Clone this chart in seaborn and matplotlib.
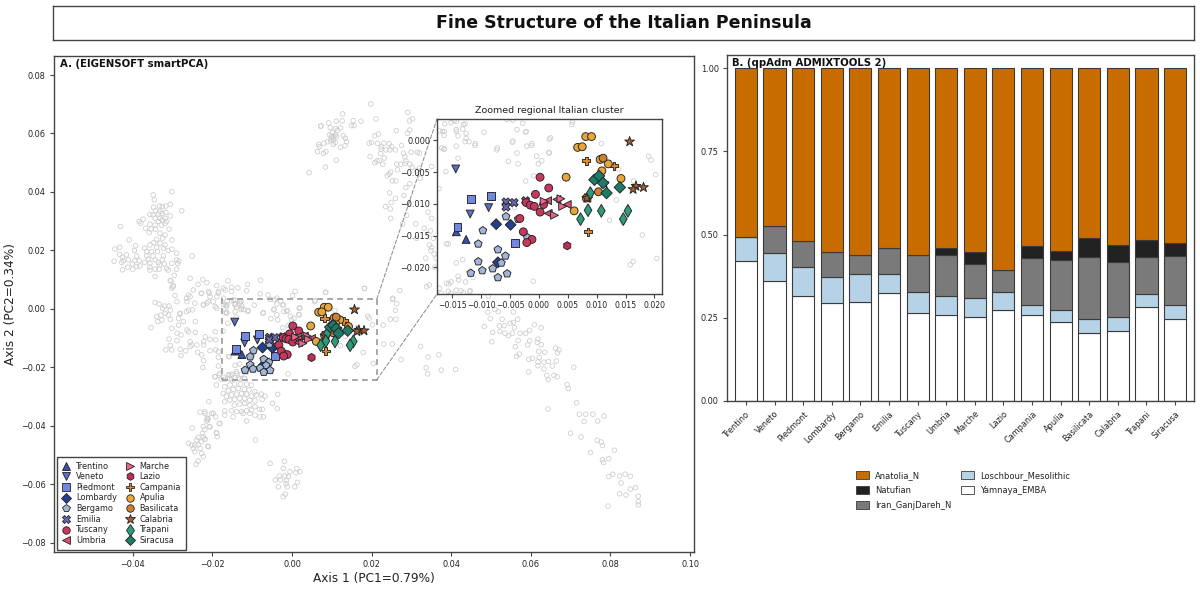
import numpy as np
import pandas as pd
import matplotlib
matplotlib.use("Agg")
import matplotlib.pyplot as plt
from matplotlib.lines import Line2D
from matplotlib.patches import ConnectionPatch, Patch, Rectangle
import seaborn as sns

bg_points = [
    (12.7,66.7),(17.3,64.2),(15.4,64.4),(14.9,62.7),(15.6,62.7),(9.2,63.6),(11.1,64.2),(12.6,64.3),(7.2,62.5),(7.3,62.6),
    (9.6,62.0),(10.9,61.7),(12.2,61.9),(10.2,60.3),(9.4,59.5),(10.9,59.6),(12.9,59.2),(13.4,58.4),(13.7,57.2),(10.4,57.8),
    (9.7,57.6),(10.4,56.3),(8.9,57.2),(8.0,56.7),(6.7,56.3),(12.2,55.3),(13.3,55.8),(6.9,55.5),(6.4,53.8),(7.9,53.2),
    (8.5,53.8),(11.1,50.9),(8.4,48.5),(4.3,46.6),(11.2,58.9),(10.0,58.4),(10.9,56.9),(11.4,61.1),(10.5,59.0),(9.9,58.9),
    (-30.2,40.1),(-34.9,39.0),(-34.6,37.3),(-30.6,35.8),(-31.7,35.2),(-32.6,35.0),(-33.3,35.2),(-34.8,34.8),(-27.7,33.6),(-34.3,33.6),
    (-33.2,33.3),(-31.7,33.0),(-32.6,32.7),(-33.6,32.5),(-34.9,32.2),(-35.7,32.3),(-30.6,31.8),(-34.4,31.0),(-33.2,31.0),(-31.9,31.0),
    (-32.6,30.4),(-31.5,29.9),(-33.6,29.9),(-37.4,30.7),(-38.4,29.9),(-38.0,29.3),(-43.1,28.2),(-35.7,29.0),(-34.4,28.7),(-32.8,28.7),
    (-31.9,29.3),(-36.8,27.6),(-35.4,27.3),(-34.3,27.3),(-30.9,27.3),(-35.9,26.1),(-33.2,25.9),(-31.9,25.3),(-34.0,23.8),(-32.5,24.2),
    (-30.2,23.6),(-40.9,23.6),(-39.3,21.6),(-34.7,22.7),(-33.2,22.5),(-31.9,21.9),(-35.7,21.9),(-37.0,20.8),(-34.0,21.1),(-32.3,20.8),
    (-30.2,20.4),(-44.5,20.5),(-43.3,21.1),(-39.6,20.0),(-36.5,19.6),(-35.3,19.6),(-33.8,19.6),(-31.1,20.0),(-29.0,19.1),(-43.3,18.7),
    (-41.6,18.5),(-39.0,18.1),(-42.6,17.7),(-36.5,18.2),(-34.9,18.1),(-32.3,18.2),(-25.1,18.1),(-44.7,16.3),(-42.4,16.5),(-41.1,16.8),
    (-39.5,16.5),(-38.4,16.5),(-36.1,17.0),(-34.4,16.8),(-32.6,16.8),(-29.0,16.8),(-28.4,16.4),(-42.8,15.9),(-40.1,15.4),(-37.0,15.9),
    (-35.7,15.6),(-33.6,15.9),(-32.1,15.4),(-30.2,15.6),(-28.7,15.6),(-41.3,14.3),(-39.0,14.5),(-38.2,14.7),(-35.7,14.3),(-33.2,15.1),
    (-40.0,13.6),(-42.6,13.4),(-35.7,13.3),(-34.4,13.6),(-33.4,13.6),(-31.5,13.9),(-31.1,13.3),(-29.0,13.6),(-29.6,11.5),(-34.4,11.1),
    (-30.6,9.7),(-25.6,10.5),(-29.8,7.9),(-30.2,7.1),(-29.4,4.6),
    (-22.4,10.1),(-21.4,9.0),(-23.6,8.4),(-16.1,9.6),(-7.9,9.8),(-11.2,8.4),(-18.9,8.0),(-17.2,7.1),(-15.2,7.4),(-13.6,7.2),
    (-11.4,6.2),(-26.0,4.8),(-20.8,5.4),(-18.5,5.4),(-15.2,6.0),(-22.7,5.4),(-26.5,3.7),(-24.4,2.0),(-21.4,2.0),(-19.8,2.5),
    (-17.2,3.7),(-14.7,3.1),(-13.1,2.5),(-8.0,5.2),(-6.0,4.8),(-3.8,3.7),(-2.2,1.4),(0.8,6.0),(0.1,4.6),(8.5,5.7),
    (18.2,7.0),(5.8,2.9),(-1.2,-0.5),(2.0,0.4),(1.8,-2.0),(-7.2,-1.2),(-4.5,-0.1),(-11,-0.5),(-12.6,0.3),(-14.3,1.4),
    (-16.4,1.4),(-14.3,-0.9),(-16.8,-1.2),(-18.9,0.3),(-22.3,1.4),(-25,-0.3),(-26.5,-0.9),(-28.2,-1.7),
    (-30.4,9.6),(-29.9,7.6),(-28.9,2.5),(-34.4,2.2),(-33.4,1.7),(-32.0,1.0),(-30.9,1.0),(-32.5,0.2),(-30.6,-0.4),(-31.9,-1.5),
    (-32.9,-2.1),(-31.0,-2.1),(-28.1,-1.5),(-26.0,-0.4),(-26.4,2.5),(-25.6,4.2),(-24.8,6.5),(-22.8,5.3),(-21.0,5.9),(-20.6,4.2),
    (-18.9,4.2),(-18.5,5.9),(-16.8,6.5),(-21.0,2.5),(-22.2,1.4),(-19.3,0.8),(-34,-2.6),(-32.7,-3.8),(-30.6,-3.5),(-28.5,-3.2),
    (-27.3,-4.3),(-24.3,-4.3),(-33.7,-4.3),(-35.4,-6.4),(-30.2,-6.6),(-28.5,-5.5),(-26.4,-7.2),(-24.3,-8.0),(-26,-7.8),(-28.9,-8.3),
    (-27.9,-8.9),(-30.9,-10.3),(-28.9,-10.8),(-21.8,-9.5),(-22.2,-11.2),(-20.6,-10.4),(-19.2,-10.6),(-25.6,-11.2),(-25.2,-12.3),(-23.9,-12.3),
    (-22.2,-12.3),(-30.6,-12.5),(-31.7,-14.0),(-28.1,-13.8),(-26.7,-14.3),(-30.2,-14),(-25.6,-12.9),(-23.7,-14.8),(-20.6,-14.3),(-19.2,-14),
    (-18.5,-14.6),(-22.7,-15.7),(-27.9,-15.9),(-22.2,-17.7),(-22.4,-20),(-18.5,-16.5),(-18.5,-19.5),(-19.3,-7.8),(-16.4,-1.3),(-19.3,-23.1),
    (-18.3,-22.6),(-16,-16.3),
    (-15.6,-22.6),(-13.9,-22.0),(-16.9,-24.1),(-15.2,-24.1),(-13.5,-23.7),(-11.9,-23.7),(-19,-26),(-16.9,-26.6),(-15.6,-26),(-14.4,-25.7),
    (-12.9,-25.7),(-11.4,-25.7),(-10.2,-26),(-17.3,-28.9),(-16.0,-28),(-14.8,-27.5),(-13.5,-27.2),(-12,-27.5),(-10.8,-27.7),(-9.3,-28.3),
    (-16.5,-29.8),(-15.2,-29.4),(-13.9,-29.1),(-12.7,-28.9),(-11.4,-29.1),(-10.2,-29.8),(-8.9,-29.4),(-7.7,-29.1),(-6.8,-29.8),(-3.6,-29.2),
    (-16.9,-31.7),(-15.6,-31.2),(-14.4,-30.9),(-13.1,-30.6),(-11.9,-30.6),(-10.6,-31.2),(-9.3,-31.4),(-7.5,-30.9),(-14.5,-32.9),(-13.1,-32.5),
    (-11.9,-32.3),(-10.6,-32.9),(-9.3,-33.4),(-4.9,-32.3),(-3.7,-34.1),(-16.9,-34.8),(-15.2,-34.8),(-13.9,-35.1),(-12.7,-35.1),(-11.4,-34.8),
    (-10.2,-34.6),(-8.2,-34.3),(-7.5,-34.3),(-20.9,-31.7),(-19.8,-35.7),(-16.9,-36.3),(-14.8,-36.9),(-12.3,-35.7),(-10.6,-35.7),(-9.3,-36.3),
    (-8.1,-36.9),(-7.2,-36.9),(-11.4,-38.3),(-18.1,-39.1),(-19,-42.3),(-18.8,-43.7),(-9.2,-44.8),(-20.6,-40.3),(-21.1,-37.4),(-21.9,-35.7),
    (-21.2,-38),(-21.9,-44.5),(-21.2,-46.9),(-19.2,-36.9),(-19.4,-23.2),(-18.1,-22),
    (-23.1,-35.3),(-21.9,-35.1),(-20.2,-35.7),(-21.3,-37.4),(-21.5,-38.3),(-22.3,-40.2),(-20.8,-40.2),(-18.3,-39.2),(-25.1,-40.7),(-21.9,-41.2),
    (-18.9,-42.5),(-22.5,-42.5),(-22.3,-43.7),(-23.6,-43.9),(-24,-44.8),(-21.9,-44.6),(-22.7,-45.4),(-26,-45.9),(-25.2,-46.5),(-24.4,-46.5),
    (-23.6,-46.5),(-21,-47.1),(-24.8,-47.7),(-23.1,-47.7),(-24.4,-48.8),(-22.7,-49.4),(-22.3,-50.5),(-23.6,-52),(-24.1,-53.1),
    (-1.9,-52.1),(-5.5,-52.8),(-2.2,-54.5),(1.2,-54.6),(-0.5,-55.6),(1,-56),(2,-55.6),(-3.2,-57.1),(-1.8,-57.1),(-0.9,-57.3),
    (-4.2,-58.5),(-2.9,-58.5),(-1.4,-58.7),(1.3,-59.3),(-1.5,-59.8),(-3.4,-60.8),(0.7,-60.8),(-1.2,-60.8),(-1.7,-63.3),(-2.2,-64.2),
    (25.3,3.3),(26.3,1.8),(26,-0.5),(24.7,-3.5),(26.1,-3.5),(22.9,-5.5),(23.1,-12),(25.2,-12),(27.4,-17.3),(32.3,-12.8),
    (34.2,-16.4),(36.9,-15.7),(33.7,-20.1),(37.5,-20.9),(34.1,-22.2),(41.1,-20.7),(49.3,4.4),(49.2,-1.1),(49.8,-3.3),(51,-0.2),
    (51.8,-0.9),(55.6,-1),(48.3,-6),(52.8,-3.5),(56.7,-3.5),(54.8,-4.9),(55.6,-4.6),(52.1,-5.8),(53.3,-5.7),(55.9,-6.4),
    (60.9,-5.4),(62.6,-6.4),(59.7,-7.3),(50.4,-8),(52.2,-7.7),(53.5,-8.3),(54.4,-9.1),(55.4,-8.3),(57.3,-8.3),(58.7,-8.3),
    (50.2,-11.2),(56.8,-10.8),(56.1,-12.9),(61.8,-10.3),(59.7,-10.9),(61.6,-11.4),(62.6,-12.2),(59.2,-12.3),(62,-14.5),(63.5,-14.8),
    (66.2,-13.4),(67.1,-14),(66.7,-15),(57.1,-15.4),(56.4,-16.2),(59.5,-17.2),(60.4,-16.9),(62.1,-16.6),(61.8,-18.1),(63.3,-18.2),
    (64.4,-17.9),(66.4,-17.8),(61.8,-19.4),(65.4,-19.5),(63.3,-20.5),(59.5,-21.5),(70.8,-19.9),(64,-22.7),(65.8,-22.7),(66.6,-23.2),
    (64.4,-24.2),(69.1,-25.9),(69.4,-27.2),(71.5,-32.1),(64.3,-34.2),(72.2,-36),(73.8,-36),(75.6,-36),(78.4,-36.6),(73.4,-38.5),
    (76.8,-38.3),(70,-42.5),(72.6,-43.8),(76.7,-44.9),(77.7,-45.5),(78,-46.7),(81,-48.3),(75,-49.1),(79.6,-51.2),(78,-51.6),
    (78.3,-52.5),(80.6,-56.5),(79.6,-57.3),(82.3,-57.1),(83.7,-56.5),(85,-57.2),(82.7,-59.5),(86.3,-61.1),(85,-61.6),(82.3,-63.2),
    (83.9,-63.6),(87,-64),(87,-65.9),(87,-67),(79.4,-67.4),
    (19.8,70.1),(29.1,67.2),(21.1,65),(30.3,65),(29.5,64.3),(26.2,61),(29.6,61.2),(29,60.1),(21.7,59.8),(20.8,59.2),
    (20,57),(19.4,56.7),(21.5,56.6),(23.1,56.7),(22.5,55.5),(24.4,56.5),(25,55.5),(27.5,55.9),(24.6,54.4),(23.6,54.4),
    (26,54.4),(22.4,54.7),(28,53.3),(29.9,53.6),(31.5,53.6),(32,53.3),(22.3,53.1),(19.6,52.1),(23.2,51.6),(28.4,52.1),
    (21.9,50.8),(21.3,50.6),(20.8,50),(22.8,49.5),(28.6,50.6),(26.3,49.5),(27.3,49.5),(28.4,49.8),(29.6,49.5),(35.1,48.7),
    (30.2,48.5),(26.5,47.6),(32,48.1),(31.3,47.2),(24.8,46.8),(24.4,46.1),(23.9,45.5),(25.2,43.8),(26.1,43.8),(32.2,44.7),
    (29.6,42.8),(28.6,41.5),(24.5,39.7),(28.1,38.8),(26,37.8),(24.9,36.4),(23.5,35),(24.7,34.2),(24.8,31),(28.8,32),
    (34.2,33.1),(35.1,31),(31.1,29.1),(27.8,29.1),(33.2,27.6),(34.8,26.7),(34.2,25.6),(31.3,24.2),(35.5,24.2),(34.5,21.9),
    (35.1,21),(34.9,20),(35.7,18.8),(33.6,17.4),(36.2,17.4),(35.9,14.3),(34.5,8.2),(33.8,7.6),(27.1,6.3),(18.2,7.1),
    (8.4,5.7),(25.3,3.7),
    (-16.3,2.6),(-15.2,2.8),(-14.3,3),(-12.8,2.6),(-17.2,1.5),(-16.7,1.4),(-16.4,0.8),(-14.3,1.7),(-13.2,1.8),(-12.6,1.1),
    (-12.8,-0.2),(-12.1,-0.2),(-14,0.7),(-16.4,-1.4),(-11.1,-0.8),(-14,-2.8),(-16.1,-4.9),(-7.3,-1.5),(-9.5,1.3),(-5.5,3.3),
    (-4.5,3.2),(-2.8,2.7),(-3.8,1.7),(-2.3,1.3),(-4.6,-0.3),(-1.3,-0.8),(-2.1,-0.9),(1.8,0.2),(-3.8,-2),(-5.3,-3.3),
    (-3.6,-3.7),(-0.4,-2.5),(1.7,-1.9),(0.5,-3.2),(-0.1,-3.7),(5.7,2.5),(10.8,-0.5),(19,-2.5),(19.4,-3.1),(13.8,-4.5),
    (20.2,-5.4),(-0.9,-5.6),(-2.3,-6.4),(16.4,-6.4),(-17.3,-7.6),(13.4,-9.4),(-4.2,-10.6),(12.2,-12.6),(14.5,-12.9),(-15.7,-16.3),
    (17.9,-14.9),(20.4,-18.6),(16.3,-19.1),(15.8,-19.6),(-14.3,-19.3),(-13.2,-18.8),(-11.4,-21.6),(-14,-21.4),(-15.2,-22.3),(-16,-22.5),
    (-12.7,-22.3),(-1,-22.2),(-13.1,-24),(-17.2,-23.3),(-15.7,-23.8),(-14.3,-23.6),(-12,-23.8),(-17.8,-24),
]

trentino = [(-14.3,-14.4),(-12.6,-15.6)]
veneto = [(-14.4,-4.5),(-11.9,-11.6),(-8.7,-10.6)]
piedmont = [(-11.8,-9.3),(-8.3,-8.7),(-14.1,-13.7),(-4.2,-16.2)]
lombardy = [(-7.4,-13.2),(-4.9,-13.3),(-7.1,-19.2)]
bergamo = [(-5.7,-12.0),(-9.7,-14.2),(-10.5,-16.3),(-7.1,-17.2),(-5.8,-18.2),(-10.5,-19.1),(-6.5,-19.3),(-8.0,-20.2),
           (-9.8,-20.5),(-11.8,-20.9),(-5.5,-21.0),(-7.1,-21.6),(-3.6,-12.4),(-2.0,-15.3)]
emilia = [(-5.7,-9.7),(-4.3,-9.8),(-5.7,-10.5),(-2.3,-9.5)]
tuscany = [(0.2,-5.8),(1.7,-7.5),(-0.6,-8.5),(-2.2,-9.8),(-1.5,-10.2),(-0.8,-10.4),(0.8,-10.1),(0.2,-11.3),(-3.3,-12.3),
           (-2.7,-14.4),(-1.2,-15.6),(-2.1,-16.1)]
umbria = [(1.5,-9.5),(3.1,-9.3),(4.9,-10.1),(1.6,-11.5),(8.3,-9.1)]
marche = [(3.8,-9.2),(4.1,-10.4),(2.7,-11.8),(0.9,-9.6),(8.6,-9.0)]
lazio = [(4.9,-16.6)]
campania = [(8.2,-3.2),(13.0,-4.0),(8.5,-14.4)]
apulia = [(8.1,0.6),(9.1,0.6),(6.7,-1.1),(7.5,-1.0),(10.6,-3.0),(12.0,-3.7),(10.9,-4.8),(4.7,-5.8),(14.2,-6.0),(6.1,-11.1)]
basilicata = [(11.1,-2.8),(10.3,-8.1),(8.2,-9.1)]
calabria = [(15.7,-0.2),(16.8,-7.2),(16.3,-7.7),(18.1,-7.4),(11.3,-6.8),(8.3,-9.1)]
trapani = [(8.9,-8.3),(8.5,-11.0),(7.2,-12.4),(10.8,-11.1),(15.4,-11.1),(14.6,-12.4)]
siracusa = [(9.6,-6.2),(10.4,-5.6),(11.1,-6.7),(11.7,-8.3),(14.0,-7.4)]

regions = ["Trentino","Veneto","Piedmont","Lombardy","Bergamo","Emilia","Tuscany","Umbria",
           "Marche","Lazio","Campania","Apulia","Basilicata","Calabria","Trapani","Siracusa"]
pop_points = [trentino,veneto,piedmont,lombardy,bergamo,emilia,tuscany,umbria,
              marche,lazio,campania,apulia,basilicata,calabria,trapani,siracusa]
pop_markers = ["^","v","s","D","p","X","o","<",">","h","P","o","o","*","d","D"]
pop_sizes = [32,32,32,30,34,34,32,32,32,34,36,32,32,55,42,34]
pop_colors = ["#3a50a8","#5a70c8","#7088e4","#24408c","#a2b6d8","#6a68b0","#c8385c","#d84f72",
              "#e8688c","#c42c52","#e08a30","#e6a63a","#cf8030","#a85f30","#2f9a7c","#1f7a68"]

# qpAdm fractions per region, bottom to top of each bar
yamnaya = [0.420,0.362,0.317,0.295,0.297,0.325,0.264,0.257,0.252,0.275,0.258,0.237,0.205,0.210,0.283,0.245]
loschbour = [0.074,0.084,0.085,0.079,0.085,0.058,0.063,0.058,0.057,0.054,0.030,0.038,0.040,0.041,0.038,0.044]
iran = [0.000,0.079,0.079,0.075,0.056,0.077,0.111,0.123,0.104,0.064,0.142,0.148,0.188,0.166,0.111,0.147]
natufian = [0.000,0.000,0.000,0.000,0.000,0.000,0.000,0.022,0.035,0.000,0.037,0.027,0.056,0.053,0.052,0.039]
anatolia = [0.506,0.475,0.519,0.551,0.562,0.540,0.562,0.540,0.552,0.607,0.533,0.551,0.511,0.530,0.516,0.525]
sources = ["Anatolia_N","Natufian","Iran_GanjDareh_N","Loschbour_Mesolithic","Yamnaya_EMBA"]
source_values = [anatolia,natufian,iran,loschbour,yamnaya]
source_colors = ["#c96c00","#222222","#7a7a7a","#b5d2e6","#ffffff"]

sns.set_style("ticks")
plt.rcParams['font.family'] = ['DejaVu Sans']
spine_c = "#444444"
W, H = 1200, 589

def axes_px(l, t, r, b):
    return [l/W, 1 - b/H, (r-l)/W, (b-t)/H]

fig = plt.figure(figsize=(12, 5.89), dpi=100)

# title box
ax_t = fig.add_axes(axes_px(53, 6, 1194, 39.5))
ax_t.set_xticks([])
ax_t.set_yticks([])
ax_t.text(0.5, 0.5, "Fine Structure of the Italian Peninsula", ha="center", va="center",
          fontsize=12.5, fontweight="bold", color="#111111")

pop_df = pd.concat([pd.DataFrame(p, columns=["pc1","pc2"]).assign(region=r)
                    for r, p in zip(regions, pop_points)], ignore_index=True)
pop_df[["pc1","pc2"]] /= 1000
bg = np.array(bg_points) / 1000

def draw_pca(ax):
    sns.scatterplot(x=bg[:,0], y=bg[:,1], color="white", edgecolor="#cbcbcb", s=11, linewidth=0.55, ax=ax)
    ax.collections[-1].set_facecolor("none")
    sns.scatterplot(data=pop_df, x="pc1", y="pc2", hue="region", style="region", size="region",
                    hue_order=regions, style_order=regions, size_order=regions,
                    palette=dict(zip(regions, pop_colors)), markers=dict(zip(regions, pop_markers)),
                    sizes=dict(zip(regions, pop_sizes)), edgecolor="#222222", linewidth=0.65,
                    legend=False, ax=ax)

# panel A
ax_a = fig.add_axes(axes_px(54, 56, 694, 552))
draw_pca(ax_a)
ax_a.set_xlim(-0.0598, 0.1010)
ax_a.set_ylim(-0.0831, 0.0865)
ax_a.set_xticks(np.arange(-0.04, 0.101, 0.02))
ax_a.set_yticks(np.arange(-0.08, 0.081, 0.02))
ax_a.tick_params(labelsize=5.9, length=3, width=0.8, color=spine_c, pad=3, labelcolor="#222222")
ax_a.set_xlabel("Axis 1 (PC1=0.79%)", fontsize=8.7, labelpad=2, color="#222222")
ax_a.set_ylabel("Axis 2 (PC2=0.34%)", fontsize=8.7, labelpad=3, color="#222222")
ax_a.text(0.009, 0.993, "A. (EIGENSOFT smartPCA)", transform=ax_a.transAxes, ha="left", va="top",
          fontsize=7.3, fontweight="bold", color="#111111")

handles = [Line2D([], [], linestyle="none", marker=m, color=c, markeredgecolor="#222222",
                  markeredgewidth=0.6, markersize=np.sqrt(s)*0.95, label=r)
           for r, m, c, s in zip(regions, pop_markers, pop_colors, pop_sizes)]
ax_a.legend(handles=handles, ncol=2, loc="lower left", bbox_to_anchor=(0.004, 0.005), borderaxespad=0,
            fontsize=5.9, frameon=True, fancybox=False, framealpha=1, edgecolor=spine_c,
            labelspacing=0.2, columnspacing=0.9, handletextpad=0.55, borderpad=0.55, handlelength=1.3,
            labelcolor="#222222")

# inset
ax_i = fig.add_axes(axes_px(437, 119, 662, 294), zorder=5)
draw_pca(ax_i)
ax_i.set_xlim(-0.01764, 0.0213)
ax_i.set_ylim(-0.0242, 0.00337)
ax_i.set_xticks(np.arange(-0.015, 0.0201, 0.005))
ax_i.set_yticks(np.arange(-0.020, 0.0001, 0.005))
ax_i.tick_params(labelsize=5.6, length=3, width=0.8, color=spine_c, pad=2, labelcolor="#222222")
ax_i.tick_params(axis="y", labelsize=5.9)
ax_i.set_xlabel("")
ax_i.set_ylabel("")
ax_i.set_title("Zoomed regional Italian cluster", fontsize=6.8, pad=4, color="#222222")

zoom_x, zoom_y = ax_i.get_xlim(), ax_i.get_ylim()
ax_a.add_patch(Rectangle((zoom_x[0], zoom_y[0]), zoom_x[1]-zoom_x[0], zoom_y[1]-zoom_y[0], fill=False,
                         edgecolor="#999999", linestyle=(0, (3.5, 2.5)), linewidth=1.2, zorder=6))
for yy, yi in [(zoom_y[1], 1), (zoom_y[0], 0)]:
    fig.add_artist(ConnectionPatch((zoom_x[1], yy), (0, yi), coordsA=ax_a.transData, coordsB=ax_i.transAxes,
                                   color="#888888", linestyle=(0, (4, 2)), linewidth=0.7))

# panel B
bar_df = pd.concat([pd.DataFrame({"region": regions, "source": s, "frac": v})
                    for s, v in zip(sources, source_values)], ignore_index=True)
bar_df["region"] = pd.Categorical(bar_df["region"], categories=regions, ordered=True)
ax_b = fig.add_axes(axes_px(727, 55, 1194, 401))
sns.histplot(data=bar_df, x="region", weights="frac", hue="source", hue_order=sources, multiple="stack",
             discrete=True, shrink=0.77, palette=dict(zip(sources, source_colors)), alpha=1,
             edgecolor="#3a3a3a", linewidth=0.8, legend=False, ax=ax_b)
ax_b.set_xlim(-0.66, 15.66)
ax_b.set_ylim(0, 1.04)
ax_b.set_yticks([0, 0.25, 0.5, 0.75, 1.0])
ax_b.set_yticklabels(["0.00", "0.25", "0.50", "0.75", "1.00"])
ax_b.set_xticks(range(len(regions)))
ax_b.set_xticklabels(regions, rotation=45, ha="right", rotation_mode="anchor")
ax_b.tick_params(axis="both", labelsize=5.9, length=3, width=0.8, color=spine_c, pad=3, labelcolor="#222222")
ax_b.set_xlabel("")
ax_b.set_ylabel("")
ax_b.text(0.011, 0.992, "B. (qpAdm ADMIXTOOLS 2)", transform=ax_b.transAxes, ha="left", va="top",
          fontsize=7.3, fontweight="bold", color="#111111")

leg_handles = [Patch(facecolor=c, edgecolor="#3a3a3a", linewidth=0.6, label=s)
               for s, c in zip(sources, source_colors)]
fig.legend(handles=leg_handles, ncol=2, loc="center", bbox_to_anchor=(963/W, 1 - 490.5/H), frameon=False,
           fontsize=6, labelspacing=0.72, columnspacing=1.1, handlelength=1.6, handleheight=1.1, handletextpad=0.7,
           labelcolor="#222222")

for ax in [ax_t, ax_a, ax_i, ax_b]:
    for sp in ax.spines.values():
        sp.set_visible(True)
        sp.set_color(spine_c)
        sp.set_linewidth(1.0)

fig.savefig("out.png", dpi=100)
